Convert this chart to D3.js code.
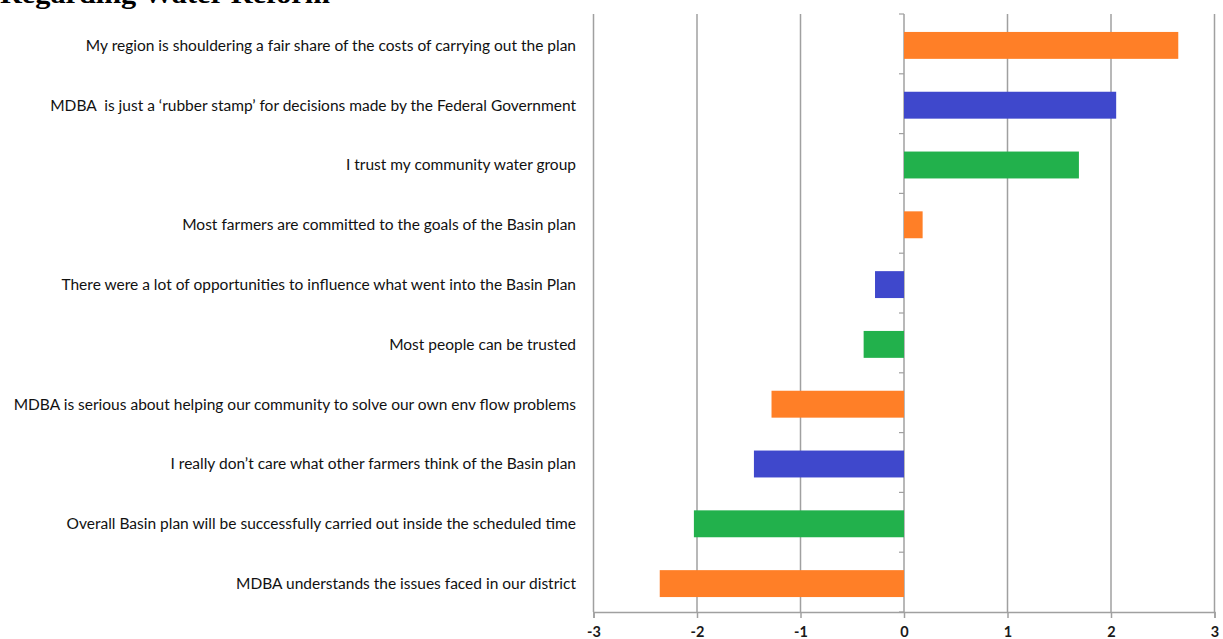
<!DOCTYPE html>
<html><head><meta charset="utf-8">
<script src="https://cdn.jsdelivr.net/npm/d3@7"></script>
<style>
html,body{margin:0;padding:0;background:#fff;}
svg{display:block;}
</style></head>
<body>
<svg id="chart" width="1223" height="639"></svg>
<script>
const title = "Regarding Water Reform";
const categories = [
  "My region is shouldering a fair share of the costs of carrying out the plan",
  "MDBA  is just a \u2018rubber stamp\u2019 for decisions made by the Federal Government",
  "I trust my community water group",
  "Most farmers are committed to the goals of the Basin plan",
  "There were a lot of opportunities to influence what went into the Basin Plan",
  "Most people can be trusted",
  "MDBA is serious about helping our community to solve our own env flow problems",
  "I really don\u2019t care what other farmers think of the Basin plan",
  "Overall Basin plan will be successfully carried out inside the scheduled time",
  "MDBA understands the issues faced in our district"
];
const values = [2.65, 2.05, 1.69, 0.18, -0.28, -0.39, -1.28, -1.45, -2.03, -2.36];
const colors = ["#FF7F27", "#3F48CC", "#22B14C"];
const xTicks = [-3, -2, -1, 0, 1, 2, 3];

(function () {
const svg = d3.select("#chart");
const pLeft = 593.5, pRight = 1214.5, pTop = 14, pBottom = 612;

const x = d3.scaleLinear().domain([-3, 3]).range([pLeft, pRight]);
const y = d3.scaleBand().domain(categories).range([pTop, pBottom]).paddingInner(0.55).paddingOuter(0.275);

// title (cut off at top, as in the reference)
svg.append("text").attr("x", 0).attr("y", 3)
  .attr("font-family", "Liberation Serif").attr("font-weight", "bold")
  .attr("font-size", 28).attr("fill", "#000")
  .attr("textLength", 330).attr("lengthAdjust", "spacingAndGlyphs")
  .text(title);

// vertical gridlines
svg.append("g").selectAll("line").data(xTicks).join("line")
  .attr("x1", d => x(d)).attr("x2", d => x(d))
  .attr("y1", pTop).attr("y2", pBottom)
  .attr("stroke", "#a0a0a0").attr("stroke-width", 1.5);

// bottom axis
const xAxis = svg.append("g").attr("transform", `translate(0,${pBottom})`)
  .call(d3.axisBottom(x).tickValues(xTicks).tickSize(6).tickPadding(9).tickFormat(d3.format("d")));
xAxis.select(".domain").attr("stroke", "#a0a0a0").attr("stroke-width", 1.5);
xAxis.selectAll(".tick line").attr("stroke", "#a0a0a0").attr("stroke-width", 1.5);
xAxis.selectAll(".tick text").attr("font-family", "Lato").attr("font-weight", "bold")
  .attr("font-size", 14.5).attr("fill", "#1a1a1a").text(d => d < 0 ? "-" + Math.abs(d) : d);

// category axis at zero with small tick marks at band boundaries
const boundaries = d3.range(categories.length + 1).map(i => pTop + i * (pBottom - pTop) / categories.length);
svg.append("g").selectAll("line").data(boundaries).join("line")
  .attr("x1", x(0) - 5).attr("x2", x(0))
  .attr("y1", d => d).attr("y2", d => d)
  .attr("stroke", "#a0a0a0").attr("stroke-width", 1.2);

// bars
svg.append("g").selectAll("rect").data(values).join("rect")
  .attr("x", d => x(Math.min(0, d)))
  .attr("width", d => Math.abs(x(d) - x(0)))
  .attr("y", (d, i) => y(categories[i]) + 1.5)
  .attr("height", y.bandwidth())
  .attr("fill", (d, i) => colors[i % 3]);

// category labels
svg.append("g").selectAll("text").data(categories).join("text")
  .attr("x", 576)
  .attr("y", d => y(d) + y.bandwidth() / 2 + 1.5)
  .attr("dy", "0.35em")
  .attr("text-anchor", "end")
  .style("white-space", "pre")
  .attr("font-family", "Lato").attr("font-size", 15.5).attr("fill", "#111")
  .text(d => d);
})();
</script>
</body></html>
